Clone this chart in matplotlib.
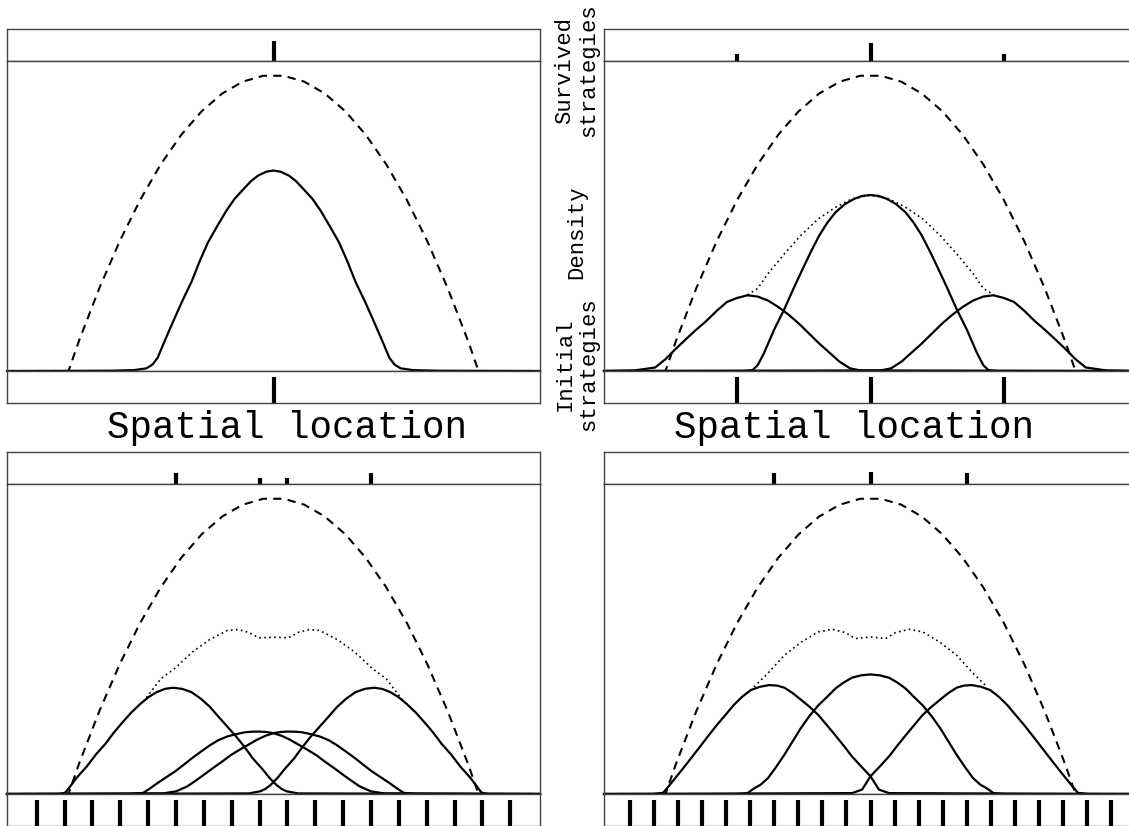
import matplotlib
matplotlib.use("Agg")
import matplotlib.pyplot as plt

plt.rcParams['font.family'] = ['Liberation Mono', 'DejaVu Sans Mono']

# carrying capacity (dashed), same in every panel
k_x = [-1.3, -1.0, -0.95, -0.9, -0.85, -0.8, -0.75, -0.7, -0.65, -0.6, -0.55, -0.5,
       -0.45, -0.4, -0.35, -0.3, -0.25, -0.2, -0.15, -0.1, -0.05, 0.0,
       0.05, 0.1, 0.15, 0.2, 0.25, 0.3, 0.35, 0.4, 0.45, 0.5, 0.55, 0.6,
       0.65, 0.7, 0.75, 0.8, 0.85, 0.9, 0.95, 1.0, 1.3]
k_y = [0, 0, 0.10, 0.19, 0.28, 0.36, 0.44, 0.51, 0.58, 0.64, 0.70, 0.75,
       0.80, 0.84, 0.88, 0.91, 0.94, 0.96, 0.98, 0.99, 1.0, 1.0,
       1.0, 0.99, 0.98, 0.96, 0.94, 0.91, 0.88, 0.84, 0.80, 0.75, 0.70, 0.64,
       0.58, 0.51, 0.44, 0.36, 0.28, 0.19, 0.10, 0, 0]

# panel A: one strategy
a_x = [-1.3, -0.80, -0.68, -0.62, -0.59, -0.565, -0.53, -0.49, -0.445, -0.40, -0.36, -0.32,
       -0.275, -0.23, -0.19, -0.145, -0.11, -0.075, -0.035, 0.0,
       0.035, 0.075, 0.11, 0.145, 0.19, 0.23, 0.275, 0.32, 0.36, 0.40, 0.445, 0.49,
       0.53, 0.565, 0.59, 0.62, 0.68, 0.80, 1.3]
a_y = [0, 0.001, 0.003, 0.009, 0.022, 0.045, 0.103, 0.167, 0.237, 0.302, 0.372, 0.435,
       0.49, 0.543, 0.583, 0.617, 0.643, 0.662, 0.675, 0.679,
       0.675, 0.662, 0.643, 0.617, 0.583, 0.543, 0.49, 0.435, 0.372, 0.302, 0.237, 0.167,
       0.103, 0.045, 0.022, 0.009, 0.003, 0.001, 0]

# panel B: three strategies
b_c_x = [-1.3, -0.62, -0.575, -0.55, -0.52, -0.47, -0.42, -0.375, -0.33, -0.29, -0.25, -0.21,
         -0.17, -0.125, -0.08, -0.04, 0.0,
         0.04, 0.08, 0.125, 0.17, 0.21, 0.25, 0.29, 0.33, 0.375, 0.42, 0.47, 0.52, 0.55,
         0.575, 0.62, 1.3]
b_c_y = [0, 0, 0.003, 0.02, 0.06, 0.14, 0.21, 0.28, 0.347, 0.405, 0.459, 0.503,
         0.538, 0.565, 0.583, 0.593, 0.596,
         0.593, 0.583, 0.565, 0.538, 0.503, 0.459, 0.405, 0.347, 0.28, 0.21, 0.14, 0.06, 0.02,
         0.003, 0, 0]
b_l_x = [-1.3, -1.15, -1.05, -1.0, -0.95, -0.9, -0.85, -0.8, -0.75, -0.7, -0.65, -0.6, -0.55,
         -0.5, -0.45, -0.4, -0.35, -0.3, -0.25, -0.2, -0.15, -0.1, -0.05, 1.3]
b_l_y = [0, 0.002, 0.012, 0.04, 0.075, 0.108, 0.14, 0.17, 0.204, 0.234, 0.2475, 0.2565, 0.252,
         0.2385, 0.217, 0.191, 0.161, 0.127, 0.093, 0.062, 0.031, 0.009, 0.002, 0]
b_r_x = [-1.3, 0.05, 0.1, 0.15, 0.2, 0.25, 0.3, 0.35, 0.4, 0.45, 0.5, 0.55, 0.6,
         0.65, 0.7, 0.75, 0.8, 0.85, 0.9, 0.95, 1.0, 1.05, 1.15, 1.3]
b_r_y = [0, 0.002, 0.009, 0.031, 0.062, 0.093, 0.127, 0.161, 0.191, 0.217, 0.2385, 0.252, 0.2565,
         0.2475, 0.234, 0.204, 0.17, 0.14, 0.108, 0.075, 0.04, 0.012, 0.002, 0]
b_s_x = [-0.6, -0.55, -0.5, -0.42, -0.34, -0.255, -0.17, -0.09, 0.0,
         0.09, 0.17, 0.255, 0.34, 0.42, 0.5, 0.55, 0.6]
b_s_y = [0.258, 0.28, 0.33, 0.397, 0.459, 0.515, 0.555, 0.583, 0.596,
         0.583, 0.555, 0.515, 0.459, 0.397, 0.33, 0.28, 0.258]

# panel C: four survivors out of eighteen
c_a_x = [-1.3, -1.05, -1.02, -1.01, -0.96, -0.91, -0.865, -0.82, -0.78, -0.74, -0.695, -0.65,
         -0.61, -0.57, -0.53, -0.49, -0.445, -0.40, -0.355, -0.31, -0.27, -0.225, -0.18,
         -0.14, -0.1, -0.055, -0.02, 0.015, 0.04, 0.065, 0.12, 1.3]
c_a_y = [0, 0, 0.003, 0.009, 0.055, 0.094, 0.135, 0.17, 0.207, 0.240, 0.275, 0.305,
         0.328, 0.345, 0.356, 0.36, 0.356, 0.345, 0.323, 0.295, 0.263, 0.228, 0.193,
         0.158, 0.12, 0.085, 0.055, 0.03, 0.017, 0.009, 0.002, 0]
c_d_x = [-1.3, -0.12, -0.065, -0.04, -0.015, 0.02, 0.055, 0.1, 0.14, 0.18, 0.225, 0.27,
         0.31, 0.355, 0.40, 0.445, 0.49, 0.53, 0.57, 0.61, 0.65, 0.695, 0.74, 0.78,
         0.82, 0.865, 0.91, 0.96, 1.01, 1.02, 1.05, 1.3]
c_d_y = [0, 0.002, 0.009, 0.017, 0.03, 0.055, 0.085, 0.12, 0.158, 0.193, 0.228, 0.263,
         0.295, 0.323, 0.345, 0.356, 0.36, 0.356, 0.345, 0.328, 0.305, 0.275, 0.240, 0.207,
         0.17, 0.135, 0.094, 0.055, 0.009, 0.003, 0, 0]
c_b_x = [-1.3, -0.7, -0.635, -0.6, -0.57, -0.525, -0.48, -0.44, -0.40, -0.355, -0.31, -0.27,
         -0.225, -0.18, -0.14, -0.105, -0.072, -0.035, 0.0, 0.04, 0.08, 0.12, 0.165, 0.21,
         0.25, 0.295, 0.34, 0.38, 0.42, 0.475, 0.54, 1.3]
c_b_y = [0, 0, 0.004, 0.02, 0.035, 0.056, 0.0765, 0.098, 0.12, 0.143, 0.165, 0.182,
         0.195, 0.203, 0.209, 0.211, 0.2115, 0.21, 0.206, 0.197, 0.184, 0.168, 0.15, 0.131,
         0.11, 0.088, 0.065, 0.045, 0.026, 0.009, 0.002, 0]
c_c_x = [-1.3, -0.54, -0.475, -0.42, -0.38, -0.34, -0.295, -0.25, -0.21, -0.165, -0.12, -0.08,
         -0.04, 0.0, 0.035, 0.072, 0.105, 0.14, 0.18, 0.225, 0.27, 0.31, 0.355, 0.40,
         0.44, 0.48, 0.525, 0.57, 0.6, 0.635, 0.7, 1.3]
c_c_y = [0, 0.002, 0.009, 0.026, 0.045, 0.065, 0.088, 0.11, 0.131, 0.15, 0.168, 0.184,
         0.197, 0.206, 0.21, 0.2115, 0.211, 0.209, 0.203, 0.195, 0.182, 0.165, 0.143, 0.12,
         0.098, 0.0765, 0.056, 0.035, 0.02, 0.004, 0, 0]
c_s_x = [-0.635, -0.55, -0.482, -0.396, -0.311, -0.225, -0.174, -0.123, -0.072, 0.0,
         0.072, 0.123, 0.174, 0.225, 0.311, 0.396, 0.482, 0.55, 0.635]
c_s_y = [0.313, 0.39, 0.425, 0.481, 0.523, 0.554, 0.557, 0.548, 0.529, 0.531,
         0.529, 0.548, 0.557, 0.554, 0.523, 0.481, 0.425, 0.39, 0.313]

# panel D: three survivors out of twenty-one
d_c_x = [-1.3, -0.65, -0.6, -0.57, -0.535, -0.50, -0.46, -0.42, -0.38, -0.34, -0.30, -0.255,
         -0.21, -0.17, -0.13, -0.09, -0.045, 0.0,
         0.045, 0.09, 0.13, 0.17, 0.21, 0.255, 0.30, 0.34, 0.38, 0.42, 0.46, 0.50,
         0.535, 0.57, 0.6, 0.65, 1.3]
d_c_y = [0, 0, 0.003, 0.018, 0.032, 0.054, 0.092, 0.133, 0.178, 0.223, 0.262, 0.30,
         0.33, 0.358, 0.378, 0.394, 0.402, 0.405,
         0.402, 0.394, 0.378, 0.358, 0.33, 0.30, 0.262, 0.223, 0.178, 0.133, 0.092, 0.054,
         0.032, 0.018, 0.003, 0, 0]
d_l_x = [-1.3, -1.06, -1.012, -0.98, -0.913, -0.87, -0.831, -0.79, -0.749, -0.705, -0.667,
         -0.625, -0.584, -0.54, -0.494, -0.455, -0.42, -0.38, -0.337, -0.295, -0.255,
         -0.215, -0.173, -0.13, -0.09, -0.045, 0.0, 0.041, 0.09, 1.3]
d_l_y = [0, 0, 0.004, 0.03, 0.088, 0.126, 0.161, 0.198, 0.234, 0.27, 0.3015,
         0.33, 0.352, 0.363, 0.369, 0.367, 0.36, 0.342, 0.318, 0.294, 0.268,
         0.235, 0.2, 0.163, 0.127, 0.093, 0.06, 0.015, 0.003, 0]
d_r_x = [-1.3, -0.09, -0.041, 0.0, 0.045, 0.09, 0.13, 0.173, 0.215, 0.255, 0.295, 0.337,
         0.38, 0.42, 0.455, 0.494, 0.54, 0.584, 0.625, 0.667, 0.705, 0.749, 0.79, 0.831,
         0.87, 0.913, 0.98, 1.012, 1.06, 1.3]
d_r_y = [0, 0.003, 0.015, 0.06, 0.093, 0.127, 0.163, 0.2, 0.235, 0.268, 0.294, 0.318,
         0.342, 0.36, 0.367, 0.369, 0.363, 0.352, 0.33, 0.3015, 0.27, 0.234, 0.198, 0.161,
         0.126, 0.088, 0.03, 0.004, 0, 0]
d_s_x = [-0.568, -0.502, -0.42, -0.337, -0.255, -0.189, -0.123, -0.074, 0.0,
         0.074, 0.123, 0.189, 0.255, 0.337, 0.42, 0.502, 0.568]
d_s_y = [0.363, 0.408, 0.47, 0.515, 0.549, 0.558, 0.547, 0.5265, 0.532,
         0.5265, 0.547, 0.558, 0.549, 0.515, 0.47, 0.408, 0.363]

# strategy markers: initial (bottom strip) and survived (top strip)
a_init = [0.0]
a_surv = [0.0]
a_surv_h = [0.63]
b_init = [-0.65, 0.0, 0.65]
b_surv = [-0.65, 0.0, 0.65]
b_surv_h = [0.23, 0.56, 0.23]
c_init = [-1.155, -1.019, -0.883, -0.747, -0.611, -0.475, -0.34, -0.204, -0.068,
          0.068, 0.204, 0.34, 0.475, 0.611, 0.747, 0.883, 1.019, 1.155]
c_surv = [-0.475, -0.068, 0.068, 0.475]
c_surv_h = [0.33, 0.19, 0.19, 0.33]
d_init = [-1.175, -1.0575, -0.94, -0.8225, -0.705, -0.5875, -0.47, -0.3525, -0.235, -0.1175, 0.0,
          0.1175, 0.235, 0.3525, 0.47, 0.5875, 0.705, 0.8225, 0.94, 1.0575, 1.175]
d_surv = [-0.47, 0.0, 0.47]
d_surv_h = [0.34, 0.37, 0.34]

W, H = 1129, 826
fig = plt.figure(figsize=(W / 100, H / 100), dpi=100)


def box(x0, y0, x1, y1):
    return [x0 / W, 1 - y1 / H, (x1 - x0) / W, (y1 - y0) / H]


def style(ax):
    ax.set_xticks([])
    ax.set_yticks([])
    ax.set_xlim(-1.3, 1.3)
    for s in ax.spines.values():
        s.set_color('#444444')
        s.set_linewidth(1.0)


def panel(x0, y0, solids, total, init, surv, surv_h):
    x1 = x0 + 533
    top = fig.add_axes(box(x0, y0, x1, y0 + 32))
    main = fig.add_axes(box(x0, y0 + 32, x1, y0 + 342))
    bot = fig.add_axes(box(x0, y0 + 342, x1, y0 + 374))
    for ax in (top, main, bot):
        style(ax)
    top.set_ylim(0, 1)
    bot.set_ylim(0, 1)
    main.set_ylim(0, 1.05)
    main.plot(k_x, k_y, color='k', lw=1.5, ls=(0, (4, 3)), clip_on=False)
    if total is not None:
        main.plot(total[0], total[1], color='k', lw=1.2, ls=(0, (1, 2)))
    for sx, sy in solids:
        main.plot(sx, sy, color='k', lw=1.6, clip_on=False, solid_joinstyle='round')
    top.vlines(surv, 0, surv_h, color='k', lw=3)
    bot.vlines(init, 0, 0.82, color='k', lw=3)
    return main


panel(7, 29, [(a_x, a_y)], None, a_init, a_surv, a_surv_h)
panel(604, 29, [(b_l_x, b_l_y), (b_c_x, b_c_y), (b_r_x, b_r_y)], (b_s_x, b_s_y),
      b_init, b_surv, b_surv_h)
panel(7, 452, [(c_a_x, c_a_y), (c_b_x, c_b_y), (c_c_x, c_c_y), (c_d_x, c_d_y)],
      (c_s_x, c_s_y), c_init, c_surv, c_surv_h)
panel(604, 452, [(d_l_x, d_l_y), (d_c_x, d_c_y), (d_r_x, d_r_y)], (d_s_x, d_s_y),
      d_init, d_surv, d_surv_h)

fig.text(287 / W, 1 - 428 / H, 'Spatial location', fontsize=27, ha='center', va='center')
fig.text(854 / W, 1 - 428 / H, 'Spatial location', fontsize=27, ha='center', va='center')

fig.text(577 / W, 1 - 70 / H, 'Survived\nstrategies', fontsize=16, rotation=90,
         ha='center', va='center', multialignment='center')
fig.text(577 / W, 1 - 232 / H, 'Density', fontsize=16, rotation=90,
         ha='center', va='center')
fig.text(577 / W, 1 - 364 / H, 'Initial\nstrategies', fontsize=16, rotation=90,
         ha='center', va='center', multialignment='center')

fig.savefig('out.png', dpi=100)
